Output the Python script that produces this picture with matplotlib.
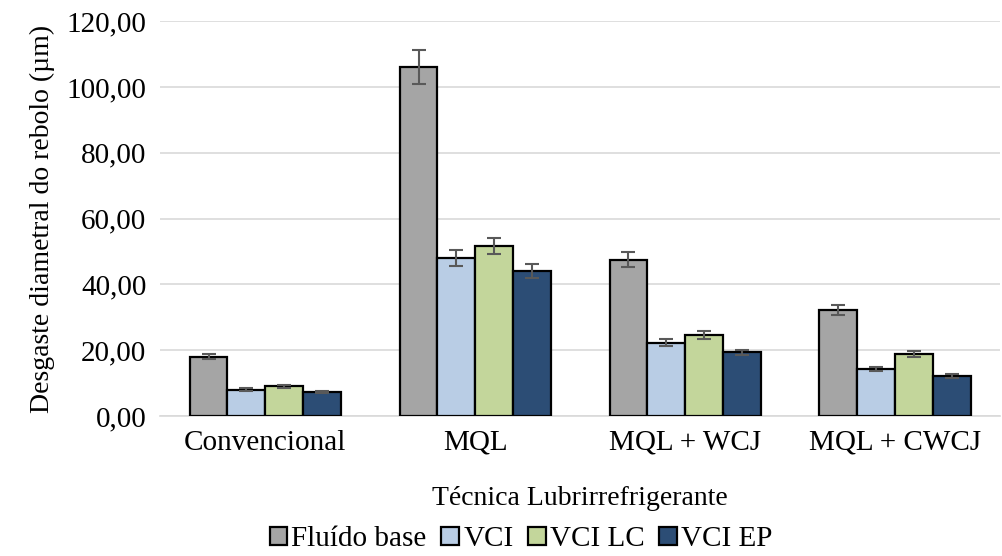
import matplotlib.pyplot as plt
import numpy as np

plt.rcParams['font.family'] = ['Liberation Serif', 'DejaVu Serif']

categories = ["Convencional", "MQL", "MQL + WCJ", "MQL + CWCJ"]
series_names = ["Fluído base", "VCI", "VCI LC", "VCI EP"]
fluido = [18.0, 106.0, 47.5, 32.2]
vci = [8.0, 48.0, 22.3, 14.3]
vci_lc = [9.0, 51.7, 24.6, 18.8]
vci_ep = [7.3, 44.0, 19.3, 12.1]
err_fluido = [0.8, 5.2, 2.3, 1.6]
err_vci = [0.4, 2.4, 1.0, 0.6]
err_lc = [0.4, 2.5, 1.2, 0.8]
err_ep = [0.3, 2.2, 0.8, 0.5]
colors = ["#A5A5A5", "#B9CDE5", "#C3D69B", "#2C4D75"]

values = [fluido, vci, vci_lc, vci_ep]
errors = [err_fluido, err_vci, err_lc, err_ep]

fig = plt.figure(figsize=(10.02, 5.56), dpi=100)
ax = fig.add_axes([0.16, 0.252, 0.838, 0.71])

x = np.arange(len(categories))
w = 0.18
for i in range(4):
    ax.bar(x + (i - 1.5) * w, values[i], w, color=colors[i], edgecolor='black',
           linewidth=1.6, label=series_names[i], zorder=3,
           yerr=errors[i], error_kw=dict(ecolor='#595959', elinewidth=1.5,
                                         capsize=5, capthick=1.5, zorder=4))

ax.set_ylim(0, 120)
ax.set_xlim(-0.5, 3.5)
ax.set_yticks(np.arange(0, 121, 20))
ax.set_yticklabels([f"{v:.2f}".replace('.', ',') for v in np.arange(0, 121, 20)], fontsize=21)
ax.set_xticks(x)
ax.set_xticklabels(categories, fontsize=21)
ax.tick_params(axis='y', length=0, pad=10)
ax.tick_params(axis='x', length=0, pad=10)
ax.grid(axis='y', color='#D9D9D9', linewidth=1.2, zorder=0)
for s in ['top', 'right', 'left']:
    ax.spines[s].set_visible(False)
ax.spines['bottom'].set_color('#D9D9D9')
ax.spines['bottom'].set_linewidth(1.2)

ax.set_ylabel("Desgaste diametral do rebolo (µm)", fontsize=20, labelpad=8)
ax.set_xlabel("Técnica Lubrirrefrigerante", fontsize=20, labelpad=22)

fig.legend(loc='center', bbox_to_anchor=(0.52, 0.03), ncol=4, frameon=False,
           fontsize=21, handlelength=0.6, handleheight=0.6, handletextpad=0.15,
           columnspacing=0.5, borderpad=0)

fig.savefig("out.png", dpi=100)
